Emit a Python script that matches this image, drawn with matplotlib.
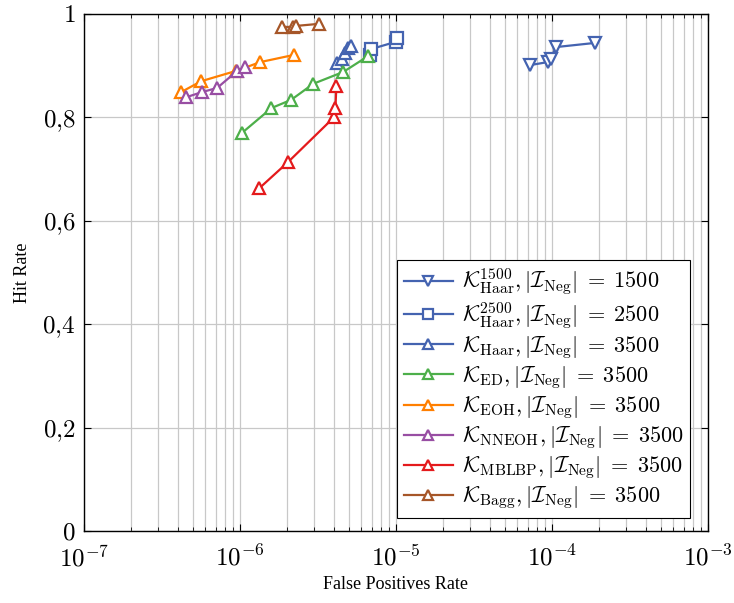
import matplotlib
matplotlib.use("Agg")
import matplotlib.pyplot as plt
from matplotlib.ticker import LogLocator

plt.rcParams['mathtext.fontset'] = 'cm'
plt.rcParams['font.family'] = ['Liberation Serif', 'DejaVu Serif']

#----------------- donnees -----------------#

fpr_haar1500 = [7.2e-5, 9.4e-5, 9.8e-5, 1.06e-4, 1.88e-4]
hr_haar1500 = [0.901, 0.907, 0.913, 0.936, 0.944]

fpr_haar2500 = [6.86e-6, 6.9e-6, 9.93e-6, 1.02e-5]
hr_haar2500 = [0.921, 0.932, 0.946, 0.954]

fpr_haar = [4.21e-6, 4.54e-6, 4.74e-6, 4.96e-6, 5.18e-6]
hr_haar = [0.905, 0.913, 0.925, 0.934, 0.938]

fpr_ed = [1.03e-6, 1.59e-6, 2.13e-6, 2.95e-6, 4.6e-6, 6.66e-6]
hr_ed = [0.770, 0.818, 0.834, 0.865, 0.888, 0.919]

fpr_eoh = [4.2e-7, 5.64e-7, 9.46e-7, 1.35e-6, 2.23e-6]
hr_eoh = [0.849, 0.870, 0.890, 0.907, 0.921]

fpr_nneoh = [4.52e-7, 5.72e-7, 7.14e-7, 9.6e-7, 1.08e-6]
hr_nneoh = [0.839, 0.849, 0.857, 0.890, 0.897]

fpr_mblbp = [1.33e-6, 2.04e-6, 4.03e-6, 4.09e-6, 4.15e-6]
hr_mblbp = [0.663, 0.714, 0.801, 0.818, 0.861]

fpr_bagg = [1.87e-6, 2.20e-6, 2.30e-6, 3.23e-6]
hr_bagg = [0.975, 0.975, 0.977, 0.981]

x_ticks = [1e-7, 1e-6, 1e-5, 1e-4, 1e-3]
x_tick_labels = [r'$10^{-7}$', r'$10^{-6}$', r'$10^{-5}$', r'$10^{-4}$', r'$10^{-3}$']
y_ticks = [0, 0.2, 0.4, 0.6, 0.8, 1]
y_tick_labels = [r'$0$', r'$0{,}2$', r'$0{,}4$', r'$0{,}6$', r'$0{,}8$', r'$1$']

#----------------- styles -----------------#

bleu = '#4463b0'
series = [
    (fpr_haar1500, hr_haar1500, bleu, 'v', r'$\mathcal{K}_{\mathrm{Haar}}^{1500}, |\mathcal{I}_{\mathrm{Neg}}| \;=\; 1500$'),
    (fpr_haar2500, hr_haar2500, bleu, 's', r'$\mathcal{K}_{\mathrm{Haar}}^{2500}, |\mathcal{I}_{\mathrm{Neg}}| \;=\; 2500$'),
    (fpr_haar, hr_haar, bleu, '^', r'$\mathcal{K}_{\mathrm{Haar}}, |\mathcal{I}_{\mathrm{Neg}}| \;=\; 3500$'),
    (fpr_ed, hr_ed, '#4daf4a', '^', r'$\mathcal{K}_{\mathrm{ED}}, |\mathcal{I}_{\mathrm{Neg}}| \;=\; 3500$'),
    (fpr_eoh, hr_eoh, '#ff7f00', '^', r'$\mathcal{K}_{\mathrm{EOH}}, |\mathcal{I}_{\mathrm{Neg}}| \;=\; 3500$'),
    (fpr_nneoh, hr_nneoh, '#984ea3', '^', r'$\mathcal{K}_{\mathrm{NNEOH}}, |\mathcal{I}_{\mathrm{Neg}}| \;=\; 3500$'),
    (fpr_mblbp, hr_mblbp, '#e41a1c', '^', r'$\mathcal{K}_{\mathrm{MBLBP}}, |\mathcal{I}_{\mathrm{Neg}}| \;=\; 3500$'),
    (fpr_bagg, hr_bagg, '#a65628', '^', r'$\mathcal{K}_{\mathrm{Bagg}}, |\mathcal{I}_{\mathrm{Neg}}| \;=\; 3500$'),
]

#----------------- figure -----------------#

fig = plt.figure(figsize=(7.34, 6.03), dpi=100)
ax = fig.add_axes([0.1144, 0.1194, 0.8502, 0.8574])

for x, y, c, m, lab in series:
    ax.plot(x, y, color=c, marker=m, markersize=8.5, markerfacecolor='white',
            markeredgecolor=c, markeredgewidth=1.6, linewidth=1.6, label=lab)

ax.set_xscale('log')
ax.set_xlim(1e-7, 1e-3)
ax.set_ylim(0, 1)
ax.set_xticks(x_ticks)
ax.set_xticklabels(x_tick_labels)
ax.xaxis.set_minor_locator(LogLocator(base=10, subs=range(2, 10), numticks=20))
ax.xaxis.set_minor_formatter(plt.NullFormatter())
ax.set_yticks(y_ticks)
ax.set_yticklabels(y_tick_labels)

ax.grid(True, which='major', color='#c8c8c8', linewidth=0.9)
ax.grid(True, which='minor', axis='x', color='#c8c8c8', linewidth=0.9)
ax.set_axisbelow(True)

ax.tick_params(which='both', direction='in', top=True, right=True, labelsize=18)
ax.tick_params(axis='x', pad=10)
ax.tick_params(axis='y', pad=6)
ax.tick_params(which='major', length=5, width=0.8)
ax.tick_params(which='minor', length=3, width=0.6)
for s in ax.spines.values():
    s.set_linewidth(1.0)

ax.set_xlabel('False Positives Rate', fontsize=13, labelpad=4)
ax.set_ylabel('Hit Rate', fontsize=13, labelpad=8)

leg = ax.legend(loc='lower right', fontsize=16, fancybox=False, framealpha=1,
                edgecolor='black', handlelength=2.2, borderpad=0.3,
                labelspacing=0.14, handletextpad=0.4, markerscale=0.8,
                borderaxespad=0, bbox_to_anchor=(0.971, 0.025))
leg.get_frame().set_linewidth(0.8)

fig.savefig('out.png', dpi=100)
